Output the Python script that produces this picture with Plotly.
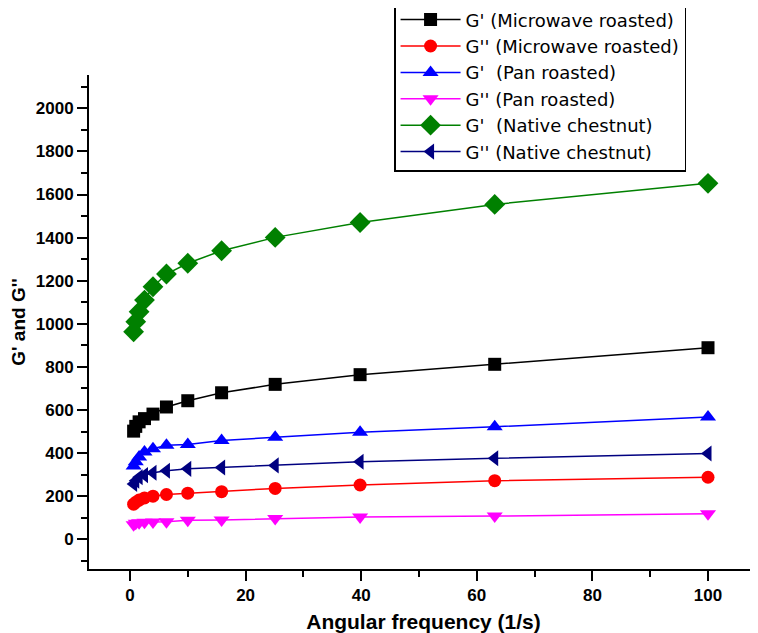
import plotly.graph_objects as go

freq = [0.63, 1.0, 1.58, 2.51, 3.98, 6.31, 10.0, 15.85, 25.12, 39.81, 63.1, 100.0]

g1_micro = [502, 524, 545, 560, 581, 614, 643, 680, 719, 764, 812, 889]
g2_micro = [163, 172, 182, 192, 200, 208, 214, 221, 236, 252, 272, 288]
g1_pan = [340, 360, 382, 405, 420, 436, 440, 458, 474, 497, 522, 568]
g2_pan = [68, 74, 77, 79, 80, 82, 88, 90, 96, 103, 108, 118]
g1_native = [963, 1010, 1056, 1110, 1172, 1231, 1281, 1339, 1401, 1470, 1554, 1652]
g2_native = [257, 272, 288, 298, 309, 318, 327, 333, 343, 360, 376, 398]

names = [
    "G' (Microwave roasted)",
    "G'' (Microwave roasted)",
    "G'\u00a0 (Pan roasted)",
    "G'' (Pan roasted)",
    "G'\u00a0 (Native chestnut)",
    "G'' (Native chestnut)",
]
series = [g1_micro, g2_micro, g1_pan, g2_pan, g1_native, g2_native]
colors = ["#000000", "#ff0000", "#0000ff", "#ff00ff", "#008000", "#000080"]
symbols = ["square", "circle", "triangle-up", "triangle-down", "diamond", "triangle-left"]
sizes = [13, 13, 14, 14, 16, 14]

fig = go.Figure()
for nm, ys, c, s, sz in zip(names, series, colors, symbols, sizes):
    fig.add_trace(go.Scatter(
        x=freq, y=ys, name=nm, mode="lines+markers",
        line=dict(color=c, width=1.5),
        marker=dict(symbol=s, size=sz, color=c, line=dict(width=0)),
    ))

tickfont = dict(family="Arial, Liberation Sans, sans-serif", size=17, color="black")
fig.update_layout(
    width=750, height=625,
    margin=dict(l=81, r=0, t=67, b=64, autoexpand=False),
    paper_bgcolor="white", plot_bgcolor="white",
    font=dict(family="Arial, Liberation Sans, sans-serif", color="black"),
    showlegend=True,
    legend=dict(
        x=0.456, y=1.152, xanchor="left", yanchor="top",
        bgcolor="white", bordercolor="black", borderwidth=1.5,
        font=dict(size=18, family="DejaVu Sans, sans-serif", color="black"),
        tracegroupgap=0, itemwidth=60,
    ),
    xaxis=dict(
        range=[-7.09, 108.65], showgrid=False, zeroline=False,
        showline=True, linecolor="black", linewidth=2,
        ticks="outside", ticklen=10, tickwidth=2, tickcolor="black",
        tickvals=[0, 20, 40, 60, 80, 100],
        tickfont=dict(tickfont, weight="bold"),
        minor=dict(ticks="outside", ticklen=6, tickwidth=2, tickcolor="black", dtick=10, tick0=0, showgrid=False),
        title=dict(text="<b>Angular frequency (1/s)</b>", font=dict(size=21)),
    ),
    yaxis=dict(
        range=[-137.8, 2154.5], showgrid=False, zeroline=False,
        showline=True, linecolor="black", linewidth=2,
        ticks="outside", ticklen=10, tickwidth=2, tickcolor="black",
        tickvals=[0, 200, 400, 600, 800, 1000, 1200, 1400, 1600, 1800, 2000],
        tickfont=dict(tickfont, weight="bold"),
        minor=dict(ticks="outside", ticklen=6, tickwidth=2, tickcolor="black", dtick=100, tick0=0, showgrid=False),
        title=dict(text="<b>G' and G''</b>", font=dict(size=19)),
    ),
)

fig.write_html("out.html")
